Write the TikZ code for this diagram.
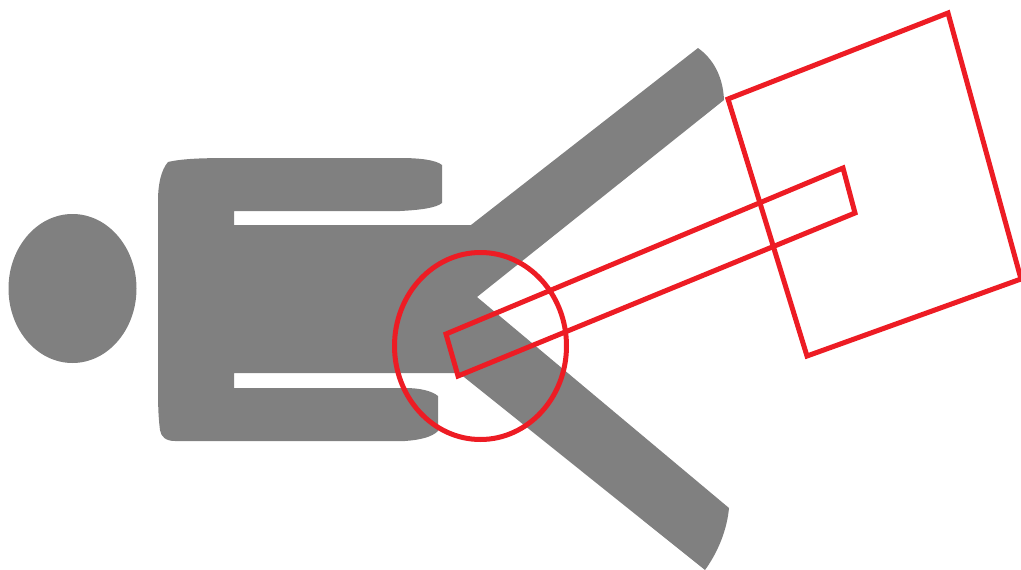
\documentclass[tikz,border=0pt]{standalone}
\usepackage{xcolor}
\usepackage{tikz}
\definecolor{figuregray}{RGB}{128,128,128}
\definecolor{markred}{RGB}{237,28,36}
\begin{document}
\begin{tikzpicture}[
  x=1pt, y=-1pt,
  figure/.style={fill=figuregray, draw=none},
  marker/.style={draw=markred, line width=5pt, line join=miter}
]
  \useasboundingbox (0,0) rectangle (1021,570);
  % head
  \path[figure] (72.5,288.5) ellipse [x radius=64, y radius=74.5];
  % body and arms
  \path[figure] (168,162) .. controls (185,158) and (210,158) .. (240,158) -- (400,158)
    .. controls (420,158) and (436,160) .. (442,165) -- (442,203)
    .. controls (436,208) and (420,210) .. (400,211) -- (234,211) -- (234,225) -- (471,225)
    -- (698,48) .. controls (712,58) and (723,75) .. (724,100)
    -- (477,297) -- (729,508) .. controls (727,530) and (718,552) .. (705,570)
    -- (459,373) -- (234,373) -- (234,388) -- (405,388)
    .. controls (420,388) and (432,391) .. (438,396) -- (438,431)
    .. controls (432,437) and (420,440) .. (405,441) -- (175,441)
    .. controls (166,441) and (161,437) .. (160,430)
    .. controls (158,415) and (158,400) .. (158,380) -- (158,200)
    .. controls (158,185) and (161,170) .. (168,162) -- cycle;
  % markers
  \draw[marker] (480.5,346) ellipse [x radius=86, y radius=93.5];
  \draw[marker] (446,334) -- (843,168) -- (855,213) -- (458,376) -- cycle;
  \draw[marker] (728,99) -- (948,13) -- (1021,279) -- (807,356) -- cycle;
\end{tikzpicture}
\end{document}
